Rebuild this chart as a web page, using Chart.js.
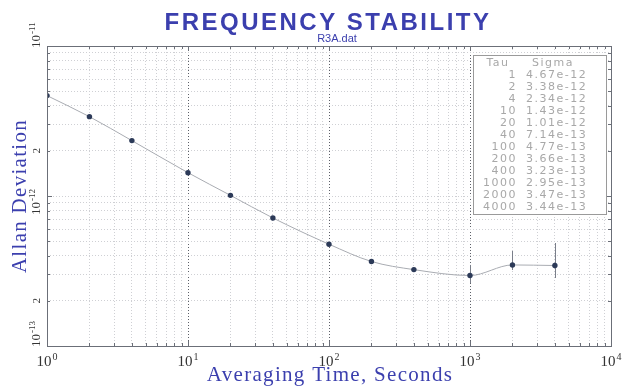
<!DOCTYPE html>
<html>
<head>
<meta charset="utf-8">
<script src="https://cdn.jsdelivr.net/npm/chart.js@4.4.1/dist/chart.umd.min.js"></script>
<style>
  html, body { margin: 0; padding: 0; background: #fff; }
  #wrap { width: 634px; height: 386px; }
</style>
</head>
<body>
<div id="wrap"><canvas id="adev" width="634" height="386"></canvas></div>
<script>
const taus = [1, 2, 4, 10, 20, 40, 100, 200, 400, 1000, 2000, 4000];
const sigmas = [4.67e-12, 3.38e-12, 2.34e-12, 1.43e-12, 1.01e-12, 7.14e-13,
                4.77e-13, 3.66e-13, 3.23e-13, 2.95e-13, 3.47e-13, 3.44e-13];
// error bar ends (only the long-tau points show visible bars)
const errHigh = [null, null, null, null, null, null, null, null, null, 3.47e-13, 4.30e-13, 4.86e-13];
const errLow  = [null, null, null, null, null, null, null, null, null, 2.63e-13, 3.21e-13, 2.84e-13];

// tick labels: base and exponent ('' exponent = plain number)
const xTickValues = [1, 10, 100, 1000, 10000];
const xTickExp = ['0', '1', '2', '3', '4'];
const yTickValues = [1e-11, 2e-12, 1e-12, 2e-13, 1e-13];
const yTickBase = ['10', '2', '10', '2', '10'];
const yTickExp = ['-11', '', '-12', '', '-13'];

const BLUE = '#3b3fae';

function minorTicks(min, max) {
    const out = [];
    const lo = Math.floor(Math.log10(min)), hi = Math.ceil(Math.log10(max));
    for (let e = lo; e <= hi; e++) {
        for (let m = 1; m <= 9; m++) {
            const v = Number((m * Math.pow(10, e)).toPrecision(3));
            if (v >= min * 0.999 && v <= max * 1.001) out.push(v);
        }
    }
    return out.map(v => ({ value: v }));
}
function isDecade(v) {
    const l = Math.log10(v);
    return Math.abs(l - Math.round(l)) < 1e-6;
}

// width of "10" plus raised exponent
function powWidth(ctx, base, exp, big, small) {
    ctx.font = big + 'px "Liberation Serif", serif';
    let w = ctx.measureText(base).width;
    if (exp) {
        ctx.font = small + 'px "Liberation Serif", serif';
        w += ctx.measureText(exp).width + 1;
    }
    return w;
}
function drawPow(ctx, base, exp, x, y, big, small) {
    ctx.textAlign = 'left';
    ctx.font = big + 'px "Liberation Serif", serif';
    ctx.fillText(base, x, y);
    if (exp) {
        const w = ctx.measureText(base).width;
        ctx.font = small + 'px "Liberation Serif", serif';
        ctx.fillText(exp, x + w + 1, y - big * 0.42);
    }
}

const framePlugin = {
    id: 'frame',
    beforeDatasetsDraw(chart) {
        const { ctx, scales: { x, y } } = chart;
        ctx.save();
        ctx.strokeStyle = '#7a7f8a';
        ctx.lineWidth = 1;
        taus.forEach((t, i) => {
            if (errHigh[i] == null) return;
            const px = Math.round(x.getPixelForValue(t)) + 0.5;
            ctx.beginPath();
            ctx.moveTo(px, y.getPixelForValue(errHigh[i]));
            ctx.lineTo(px, y.getPixelForValue(errLow[i]));
            ctx.stroke();
        });
        ctx.restore();
    },
    afterDraw(chart) {
        const { ctx, chartArea: a, scales: { x, y } } = chart;
        ctx.save();

        // plot frame
        ctx.strokeStyle = '#6b6f78';
        ctx.lineWidth = 1;
        ctx.strokeRect(Math.round(a.left) + 0.5, Math.round(a.top) + 0.5,
                       Math.round(a.right - a.left), Math.round(a.bottom - a.top));

        // inward tick marks on all four sides
        ctx.beginPath();
        x.ticks.forEach(t => {
            const px = Math.round(x.getPixelForValue(t.value)) + 0.5;
            const len = isDecade(t.value) ? 5 : 3;
            ctx.moveTo(px, a.top); ctx.lineTo(px, a.top + len);
            ctx.moveTo(px, a.bottom); ctx.lineTo(px, a.bottom - len);
        });
        y.ticks.forEach(t => {
            const py = Math.round(y.getPixelForValue(t.value)) + 0.5;
            const len = isDecade(t.value) ? 5 : 3;
            ctx.moveTo(a.left, py); ctx.lineTo(a.left + len, py);
            ctx.moveTo(a.right, py); ctx.lineTo(a.right - len, py);
        });
        ctx.stroke();

        // x tick labels
        ctx.fillStyle = '#333';
        ctx.textBaseline = 'alphabetic';
        xTickValues.forEach((v, i) => {
            const px = x.getPixelForValue(v);
            const w = powWidth(ctx, '10', xTickExp[i], 15, 10);
            drawPow(ctx, '10', xTickExp[i], px - w / 2, a.bottom + 20, 15, 10);
        });

        // y tick labels, rotated
        yTickValues.forEach((v, i) => {
            const py = y.getPixelForValue(v);
            const big = yTickExp[i] ? 13 : 11;
            const w = powWidth(ctx, yTickBase[i], yTickExp[i], big, 9);
            let start;
            if (v === y.max) start = py + 2;
            else if (v === y.min) start = py + 1;
            else start = py + w / 2 + (yTickExp[i] ? 6 : 0);
            ctx.save();
            ctx.translate(a.left - 7, start);
            ctx.rotate(-Math.PI / 2);
            drawPow(ctx, yTickBase[i], yTickExp[i], 0, 0, big, 9);
            ctx.restore();
        });

        // titles
        ctx.fillStyle = BLUE;
        ctx.textAlign = 'center';
        ctx.font = 'bold 24px "Liberation Sans", Arial, sans-serif';
        ctx.letterSpacing = '2.5px';
        ctx.fillText('FREQUENCY STABILITY', 328, 30);
        ctx.letterSpacing = '0px';
        ctx.font = '11px "Liberation Sans", Arial, sans-serif';
        ctx.fillText('R3A.dat', 337, 42);

        ctx.font = '21px "Liberation Serif", serif';
        ctx.letterSpacing = '1.3px';
        ctx.fillText('Averaging Time, Seconds', 330, 381);
        ctx.save();
        ctx.translate(26, 196);
        ctx.rotate(-Math.PI / 2);
        ctx.fillText('Allan Deviation', 0, 0);
        ctx.restore();
        ctx.letterSpacing = '0px';

        // Tau / Sigma table
        const bx = 473, by = 55, bw = 133, bh = 159;
        ctx.fillStyle = '#fff';
        ctx.fillRect(bx, by, bw, bh);
        ctx.strokeStyle = '#9a9a9a';
        ctx.strokeRect(bx + 0.5, by + 0.5, bw, bh);
        ctx.fillStyle = '#a8a8a8';
        ctx.font = '11px "DejaVu Sans", sans-serif';
        ctx.letterSpacing = '1.5px';
        ctx.textAlign = 'center';
        ctx.fillText('Tau', 498, 66);
        ctx.textAlign = 'left';
        ctx.fillText('Sigma', 532, 66);
        taus.forEach((t, i) => {
            const ty = 78 + i * 12;
            ctx.textAlign = 'right';
            ctx.fillText(String(t), 517, ty);
            ctx.textAlign = 'left';
            ctx.fillText(sigmas[i].toExponential(2), 526, ty);
        });
        ctx.restore();
    }
};

new Chart(document.getElementById('adev'), {
    type: 'scatter',
    data: {
        datasets: [{
            label: 'Allan Deviation',
            data: taus.map((t, i) => ({ x: t, y: sigmas[i] })),
            showLine: true,
            borderColor: '#a9acb2',
            borderWidth: 1,
            cubicInterpolationMode: 'monotone',
            pointRadius: 2.7,
            pointBackgroundColor: '#2c3a58',
            pointBorderColor: '#2c3a58',
            pointBorderWidth: 0
        }]
    },
    options: {
        responsive: false,
        animation: false,
        devicePixelRatio: 1,
        layout: { padding: { left: 47, right: 23, top: 46, bottom: 40 } },
        plugins: {
            legend: { display: false },
            tooltip: { enabled: false },
            title: { display: false }
        },
        scales: {
            x: {
                type: 'logarithmic',
                min: 1,
                max: 10000,
                afterBuildTicks: s => { s.ticks = minorTicks(s.min, s.max); },
                ticks: { display: false },
                border: { display: false, dash: [1, 2] },
                grid: {
                    drawTicks: false,
                    color: c => (c.tick && isDecade(c.tick.value)) ? '#5d6068' : '#cfd0d4',
                    lineWidth: 1
                }
            },
            y: {
                type: 'logarithmic',
                min: 1e-13,
                max: 1e-11,
                afterBuildTicks: s => { s.ticks = minorTicks(s.min, s.max); },
                ticks: { display: false },
                border: { display: false, dash: [1, 2] },
                grid: {
                    drawTicks: false,
                    color: '#cfd0d4',
                    lineWidth: 1
                }
            }
        }
    },
    plugins: [framePlugin]
});
</script>
</body>
</html>
